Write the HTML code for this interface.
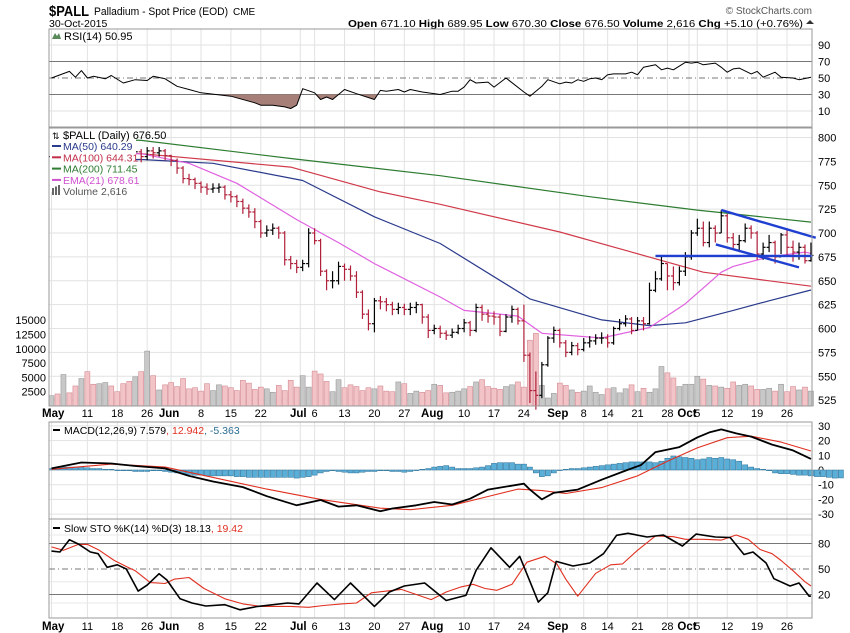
<!DOCTYPE html>
<html><head><meta charset="utf-8">
<style>
html,body{margin:0;padding:0;background:#fff;}
svg{display:block;font-family:"Liberation Sans",Arial,sans-serif;}
</style></head>
<body>
<svg id="chart" width="850" height="633" viewBox="0 0 850 633" xmlns="http://www.w3.org/2000/svg">
  <g>
    <text x="49" y="16" font-size="15" font-weight="bold" fill="#000" textLength="40" lengthAdjust="spacingAndGlyphs">$PALL</text>
    <text x="94" y="15" font-size="11" fill="#000" textLength="134" lengthAdjust="spacingAndGlyphs">Palladium - Spot Price (EOD)</text>
    <text x="233" y="15" font-size="10" fill="#000">CME</text>
    <text x="49" y="27" font-size="10.5" fill="#000">30-Oct-2015</text>
    <text x="812" y="14" font-size="10" fill="#555" text-anchor="end">© StockCharts.com</text>
    <text x="348" y="27" font-size="10.5" fill="#000" textLength="455" lengthAdjust="spacingAndGlyphs"><tspan font-weight="bold">Open</tspan> 671.10  <tspan font-weight="bold">High</tspan> 689.95  <tspan font-weight="bold">Low</tspan> 670.30  <tspan font-weight="bold">Close</tspan> 676.50  <tspan font-weight="bold">Volume</tspan> 2,616  <tspan font-weight="bold">Chg</tspan> +5.10 (+0.76%)</text>
    <path d="M806,24 L810,20 L814,24 Z" fill="#333"/>
  </g>
  <g id="grid"></g>
  <g id="marks"></g>
  <g id="frames"></g>
</svg>
<script>
// ---------- data ----------
const closes = [780,778,784,782,780, 786,784,778,782,788, 785,782,780,778,785, 780,786,784,786,781, 776,768,757,756,752, 748,746,747,748,740, 738,733,726,722,712, 700,703,705,700,672, 668,664,668,700, 692,660,650,650,665, 662,655,638,615,605, 629,628,625,620,622, 620,622,625,612,598, 600,595,593,596,600, 606,598,622,615,613, 612,597,612,620,608, 572,535,530,562,590, 598,585,575,582,578, 585,587,590,590, 585,600,605,610,598, 608,605,640,652,668, 655,648,660,675,700, 705,690,705,700,718, 695,688,692,705,700, 678,685,690,675,698, 685,680,685,671,676.5];
const highs = [786,784,788,788,785, 790,790,786,786,792, 790,788,785,783,790, 788,790,790,790,788, 782,778,770,762,758, 754,752,752,752,750, 744,740,736,730,726, 714,708,710,707,702, 676,672,672,705, 705,694,662,660,670, 668,666,660,640,620, 632,634,632,628,627, 626,627,628,626,615, 604,603,598,600,604, 610,608,626,625,620, 618,615,615,624,622, 625,575,555,565,592, 602,600,588,586,585, 590,592,594,596, 594,602,610,614,612, 612,612,648,660,677, 668,665,665,680,703, 715,712,712,708,724, 720,700,698,710,708, 702,690,698,692,700, 705,692,690,688,690];
const lows = [774,772,776,778,775, 778,780,774,776,780, 780,776,774,772,775, 774,776,778,780,776, 770,762,752,750,746, 742,740,742,742,735, 732,727,720,716,705, 695,696,698,694,666, 662,658,660,664, 688,655,640,642,646, 650,650,632,610,598, 596,620,618,614,615, 614,614,616,605,590, 594,590,588,590,594, 596,592,596,608,606, 604,592,596,606,604, 565,522,515,527,560, 585,580,570,572,572, 576,580,583,584, 580,583,598,602,594, 598,598,604,638,650, 640,640,645,655,672, 697,686,685,690,700, 690,682,680,690,694, 672,672,680,668,678, 675,670,672,668,670];
const volumes = [1800,2100,5500,2300,3500, 4800,6000,3800,3900,4100, 3500,2500,3900,4300,5100, 6000,9600,5300,2800,3700, 4100,3400,4800,3000,3200, 2600,3900,2700,3700,3500, 3200,2700,4500,4000,2900, 3300,3000,2400,3600,2700, 4500,3300,5300,3300,6100, 5600,4300,2500,4600,3200, 3700,3400,2700,3200,3000, 3500,2600,2500,4200,3900, 2200,2600,2400,2700,3800, 3600,2300,2400,2600,3000, 3400,4200,4600,3400,3100, 2900,3400,3700,4200,3300, 11500,12700,3600,1400,2200, 4000,3600,2800,2400,2600, 3500,2400,2000,3000,3200, 2300,3000,3700,2500,3100, 2400,3000,6900,5800,4900, 3400,3800,3800,5200,4700, 3600,3500,3300,3100,4200, 3600,3800,3500,2900,2900, 3100,2600,3800,2500,3400, 2800,3300,2600];
const ma200Day = [0,15,40,65,90,108,127];
const ma200Val = [800,797,778,760,738,724,711.45];
const ma100Day = [0,15,40,55,65,85,97,109,120,127];
const ma100Val = [786,783,769,743,730,701,680,659,650,644.31];
const ma50Day = [0,15,27,42,54,65,80,92,100,106,114,120,127];
const ma50Val = [776,777,773,755,717,689,631,609,603,606,619,629,640.29];
const emaDay = [0,15,23,31,41,48,54,65,69,78,82,92,100,106,112,114,120,126,127];
const emaVal = [782,783,773,752,714,690,668,633,619,613,595,590,601,626,659,665,675,680,678.61];
const rsiDay = [0,3,4,5,6,7,9,10,12,14,16,17,19,21,23,25,30,34,35,37,39,40,41,42,44,45,46,47,49,51,54,55,56,58,59,60,62,65,67,68,69,70,71,73,74,76,79,80,82,83,85,86,87,88,89,90,91,92,93,94,96,97,98,99,101,102,103,104,106,107,108,109,111,112,113,114,115,117,118,119,121,122,124,125,127];
const rsiVal = [50,58,51,59,50,52,49,53,44,48,47,52,49,40,36,32,28,20,17,17,15,13,17,37,32,24,27,24,36,31,24,35,34,36,33,36,33,30,34,34,39,48,44,45,39,50,33,28,40,48,43,45,44,48,46,49,50,48,54,55,55,57,54,63,66,60,62,60,69,68,69,66,68,63,57,61,62,55,58,51,57,51,50,48,50.95];
const macdDay = [0,5,10,14,19,23,27,32,36,41,45,48,51,55,57,61,64,67,70,73,75,79,80,82,84,88,92,96,98.6,101,105,108,110,112,114.5,117,120.5,124,127];
const macdVal = [1.1,5.1,4.4,2.7,1.1,-4,-7.8,-11.6,-17.8,-24,-20.4,-24.9,-24,-28,-26.2,-24,-21.8,-23.5,-19.5,-13.3,-12,-9.3,-13.3,-20,-15.5,-13.3,-6.6,-0.4,3.4,12.2,15.6,22.2,25.6,27.6,24.9,22.7,17.3,13.3,7.579];
const signalDay = [0,10,19,27,36,45,55,60,67,73,78,82,86,92,98,103,108,113,117,122,127];
const signalVal = [0.5,4,2,-5,-13,-20,-26,-27,-24,-18,-13,-14,-16,-12,-4,6,15,22,23,19,12.942];
const histVals = [1,1.5,2,2,2, 2,1.5,1,1,0.5, 0.5,0,-0.5,-0.5,-1, -1,-1,-0.5,-0.5,-1, -1.5,-2,-2.5,-3,-3.5, -3.5,-4,-4,-4,-4, -4,-4.5,-4.5,-5,-5, -5,-5,-5,-5,-5, -5,-5.5,-5,-4.5,-3.5, -2,-1,-0.5,-1,-1.5, -2,-2,-1.5,-1,-1, -0.5,-0.5,-1,-1,-1.5, -1,0,0.5,1,2, 2.5,3,2,1,1, 1,1.5,2,3,4.5, 5,5,5,4,4, 2,-2,-4.5,-4,-2, 0,0.5,1,1,1.5, 2,2.5,3,3.5,4, 4.5,5,5.5,5.5,5.5, 5.5,5,6,8,9.5, 9,8.5,8,7,7.5, 8.5,8,8.5,7.5,7, 6,3.5,2,1,0.5, -0.5,-2,-2.5,-2.5,-3, -3.5,-3.5,-4,-4.5,-4.5, -5,-5.5,-5.4];
const kDay = [0,1.4,3,4.6,6.5,7.8,9.3,11,12.5,14.5,16,18,19.3,21.5,23.5,25.8,29,31.5,34.5,39.5,41.4,44.4,47.3,50,54,56.5,59,62.4,66,69.3,71,73.5,76.6,78.3,81.4,83,84.4,87.2,90,92.3,94.5,96.4,99.6,102.3,105.5,107.8,111,113.5,115.8,117.3,119.5,120.8,123.5,125,126.7,127];
const kVal = [71,70,84.5,79,70,68,52,55,50,24,31,44.5,37,15,10,6.5,8,2,6,10,9,33.5,14,33.5,6,23,30,33.5,13,19,48.5,75,52,65,11,22,59,53.5,57,68,89.6,92,87.6,90,77,91,87.6,87,67,70,57,38.6,30,33.5,18,18.13];
const dDay = [0,2,4.5,6,8,10.5,12.5,14,16.5,19,20.5,23,25.5,29,32,35,40,43,45.5,48.5,51,53.5,56,58.5,61,63.5,66,68.5,70.5,72.5,74.5,77,79.5,82.5,84.5,86,88,91,93.5,95.5,98,101,104,106,109,112,114.5,116.5,118.5,120.5,122,124,126,127];
const dVal = [76,72,79,79,72,60,53,48,34,33,38,40,27,15,9,6,6,5,7,9,10,22,24,26,20,14,23,29,32,27,25,32,58,65,56,38,18,45,55,56,72,89,88,85,85,84,90,85,73,68,60,48,35,30,21,19.42];
const xDays = [6,11,16,25,30,35,44,49,54,59,69,74,79,89,93,98,103,108,113,118,123];
const xDayLabels = ["11","18","26","8","15","22","6","13","20","27","10","17","24","8","14","21","28","5","12","19","26"];
const monthDays = [0,20,41.6,64,85,106.6];
const monthLabels = ["May","Jun","Jul","Aug","Sep","Oct"];
const priceTicks = [800,775,750,725,700,675,650,625,600,575,550,525];
const volTicks = [2500,5000,7500,10000,12500,15000];
const rsiTicks = [90,70,50,30,10];
const macdTicks = [30,20,10,0,-10,-20,-30];
const stoTicks = [80,50,20];
const trendLines = [[101,676,127.3,676],[112,724,127.8,695],[111.1,688,125,664]];

// ---------- scales ----------
const L=49, R=812;
const xS = i => 51.5 + i*5.98;
const yP = p => 137.5 + (800-p)*0.955;
const yV = v => 406 - v*0.00572;
const yR = r => 78 - (r-50)*0.825;
const yM = m => 470 - m*1.47;
const yS = s => 569 - (s-50)*0.85;
const panels = {rsi:[29,127], main:[128,406], macd:[422,519], sto:[519,618]};

const NS="http://www.w3.org/2000/svg";
const gGrid=document.getElementById('grid'), gMarks=document.getElementById('marks'), gFrames=document.getElementById('frames');
function mk(tag, attrs, parent){const e=document.createElementNS(NS,tag);for(const k in attrs)e.setAttribute(k,attrs[k]);parent.appendChild(e);return e;}

// ---------- grid ----------
const allGridDays = xDays.concat(monthDays);
for (const key in panels){
  const [t,b]=panels[key];
  allGridDays.forEach(d=>{
    const ln=mk('line',{x1:xS(d),x2:xS(d),y1:t,y2:b,stroke:'#e2e2e2','stroke-width':1},gGrid);
    
    
  });
}
priceTicks.forEach(p=>{
  const ln=mk('line',{x1:L,x2:R,y1:yP(p),y2:yP(p),stroke:'#e2e2e2'},gGrid);
  
  
  const t=mk('text',{x:R+6,y:yP(p)+4,'font-size':11,fill:'#000'},gGrid);t.textContent=p;
  
  
});
volTicks.forEach(v=>{
  const t=mk('text',{x:46,y:yV(v)+4,'font-size':11,fill:'#000','text-anchor':'end'},gGrid);t.textContent=v;
  
  
});
rsiTicks.forEach(r=>{
  const isLvl=(r===70||r===30), mid=r===50;
  if(isLvl||mid){
    const ln=mk('line',{x1:L,x2:R,y1:yR(r),y2:yR(r),stroke:'#777','stroke-width':1},gGrid);
    if(mid) ln.setAttribute('stroke-dasharray','6,3,1,3');
    
    
  } else {
    const ln=mk('line',{x1:L,x2:R,y1:yR(r),y2:yR(r),stroke:'#e2e2e2'},gGrid);
    
    
  }
  const t=mk('text',{x:R+6,y:yR(r)+4,'font-size':11,fill:'#000'},gGrid);t.textContent=r;
  
  
});
macdTicks.forEach(m=>{
  const ln=mk('line',{x1:L,x2:R,y1:yM(m),y2:yM(m),stroke:'#e2e2e2'},gGrid);
  
  
  const t=mk('text',{x:R+6,y:yM(m)+4,'font-size':11,fill:'#000'},gGrid);t.textContent=m;
  
  
});
[90,65,35,10].forEach(s=>{
  const ln=mk('line',{x1:L,x2:R,y1:yS(s),y2:yS(s),stroke:'#e8e8e8'},gGrid);
  
  
});
stoTicks.forEach(s=>{
  const ln=mk('line',{x1:L,x2:R,y1:yS(s),y2:yS(s),stroke:'#777'},gGrid);
  if(s===50) ln.setAttribute('stroke-dasharray','6,3,1,3');
  
  
  const t=mk('text',{x:R+6,y:yS(s)+4,'font-size':11,fill:'#000'},gGrid);t.textContent=s;
  
  
});
// date axes
[417,630].forEach(yy=>{
  xDays.forEach((d,k)=>{
    const t=mk('text',{x:xS(d),y:yy,'font-size':11,fill:'#000','text-anchor':'middle'},gGrid);t.textContent=xDayLabels[k];
    
    
  });
  monthDays.forEach((d,k)=>{
    const t=mk('text',{x:k===0?42:xS(d)-2,y:yy,'font-size':11.5,'font-weight':'bold',fill:'#000','text-anchor':k===0?'start':'middle'},gGrid);t.textContent=monthLabels[k];
    
    
  });
});

// ---------- volume ----------
volumes.forEach((v,i)=>{
  const down = i>0 && closes[i]<closes[i-1];
  const r=mk('rect',{x:xS(i)-2.5,y:yV(v),width:5,height:406-yV(v),fill:down?'#f2c4c8':'#c8c8c8',stroke:down?'#d48a92':'#999','stroke-width':0.6},gMarks);
  
  
});

// ---------- lines helper ----------
function poly(days, vals, yf, color, w, name){
  const pts=days.map((d,k)=>xS(d).toFixed(1)+','+yf(vals[k]).toFixed(1)).join(' ');
  const p=mk('polyline',{points:pts,fill:'none',stroke:color,'stroke-width':w,'stroke-linejoin':'round'},gMarks);
  
  
  return p;
}
poly(ma200Day,ma200Val,yP,'#2e7d32',1.2,'ma200-line');
poly(ma100Day,ma100Val,yP,'#d03a4a',1.2,'ma100-line');
poly(ma50Day,ma50Val,yP,'#2a3a8c',1.2,'ma50-line');
poly(emaDay,emaVal,yP,'#e060e0',1.2,'ema21-line');

// ---------- price bars ----------
closes.forEach((c,i)=>{
  const prev = i>0?closes[i-1]:c;
  const down = c<prev;
  const col = down?'#b0203a':'#000';
  const x=xS(i);
  const g=mk('g',{stroke:col,'stroke-width':1.2},gMarks);
  
  
  mk('line',{x1:x,x2:x,y1:yP(highs[i]),y2:yP(lows[i])},g);
  mk('line',{x1:x-2.5,x2:x,y1:yP(prev),y2:yP(prev)},g);
  mk('line',{x1:x,x2:x+2.5,y1:yP(c),y2:yP(c)},g);
});

// trend lines
trendLines.forEach(t=>{
  const ln=mk('line',{x1:xS(t[0]),y1:yP(t[1]),x2:xS(t[2]),y2:yP(t[3]),stroke:'#1f3fd0','stroke-width':2.4},gMarks);
  
  
});

// ---------- RSI ----------
const rsiPts=rsiDay.map((d,k)=>[xS(d),yR(rsiVal[k])]);
const y30=yR(30), y70=yR(70);
const defs=mk('defs',{},gMarks);
const cpLow=mk('clipPath',{id:'clipLow'},defs); mk('rect',{x:L,y:y30,width:R-L,height:127-y30},cpLow);
const areaLow='M'+rsiPts[0][0]+','+y30+' '+rsiPts.map(p=>'L'+p[0].toFixed(1)+','+p[1].toFixed(1)).join(' ')+' L'+rsiPts[rsiPts.length-1][0]+','+y30+' Z';
const aL=mk('path',{d:areaLow,fill:'#a67f78','clip-path':'url(#clipLow)'},gMarks);


poly(rsiDay,rsiVal,yR,'#000',1,'rsi-line');

// ---------- MACD ----------
histVals.forEach((h,i)=>{
  const y0=yM(0), y1=yM(h);
  const r=mk('rect',{x:xS(i)-2.6,y:Math.min(y0,y1),width:5.2,height:Math.max(0.6,Math.abs(y1-y0)),fill:'#5aafd8',stroke:'#2a6f96','stroke-width':0.5},gMarks);
  
  
});
poly(signalDay,signalVal,yM,'#e03020',1.1,'macd-signal-line');
poly(macdDay,macdVal,yM,'#000',1.8,'macd-line');

// ---------- STO ----------
poly(dDay,dVal,yS,'#e03020',1.1,'sto-d-line');
poly(kDay,kVal,yS,'#000',1.6,'sto-k-line');

// ---------- frames ----------
for (const key in panels){
  const [t,b]=panels[key];
  const r=mk('rect',{x:L,y:t,width:R-L,height:b-t,fill:'none',stroke:'#999','stroke-width':1},gFrames);
  
  
}

// ---------- legends ----------
function txt(x,y,s,fill,size,name,parent){const t=mk('text',{x:x,y:y,'font-size':size||11,fill:fill||'#000'},parent||gFrames);t.textContent=s;
  
  
  return t;}
const lg=mk('g',{},gFrames);


mk('rect',{x:50,y:129,width:86,height:63,fill:'#fff'},lg);
txt(63,139,'$PALL (Daily) 676.50','#000',11,'main-legend-title',lg);
txt(52,139,'⇅','#000',9,'bar-icon',lg);
const leg=[['MA(50) 640.29','#2a3a8c'],['MA(100) 644.31','#c0304a'],['MA(200) 711.45','#2e7d32'],['EMA(21) 678.61','#d050d0']];
leg.forEach((l,k)=>{
  const sw=mk('rect',{x:52,y:145+k*11.3,width:9,height:2,fill:l[1]},lg);
  
  
  txt(63,150+k*11.3,l[0],l[1],10.5,'legend-entry',lg);
});
txt(63,195,'Volume 2,616','#555',10.5,'legend-entry-volume',lg);
[0,3,6].forEach(o=>{const r=mk('rect',{x:52+o,y:188-o/2,width:2,height:7+o/2,fill:'#666'},lg);
  
  });
const rl=mk('g',{},gFrames);


mk('path',{d:'M52,39 L55,33 L57,36 L59,33 L61,39 Z',fill:'#5a8a5a'},rl);
txt(64,40,'RSI(14) 50.95','#000',11,'rsi-legend-text',rl);
const ml=mk('g',{},gFrames);


mk('rect',{x:53,y:429,width:7,height:2,fill:'#000'},ml);
const mt=mk('text',{x:64,y:434,'font-size':10.5,fill:'#000'},ml);


mt.innerHTML='MACD(12,26,9) 7.579<tspan fill="#e03020">, 12.942</tspan><tspan fill="#2a6f96">, -5.363</tspan>';
const sl=mk('g',{},gFrames);


mk('rect',{x:53,y:527,width:7,height:2,fill:'#000'},sl);
const st=mk('text',{x:64,y:532,'font-size':10.5,fill:'#000'},sl);


st.innerHTML='Slow STO %K(14) %D(3) 18.13<tspan fill="#e03020">, 19.42</tspan>';
</script>
</body></html>
